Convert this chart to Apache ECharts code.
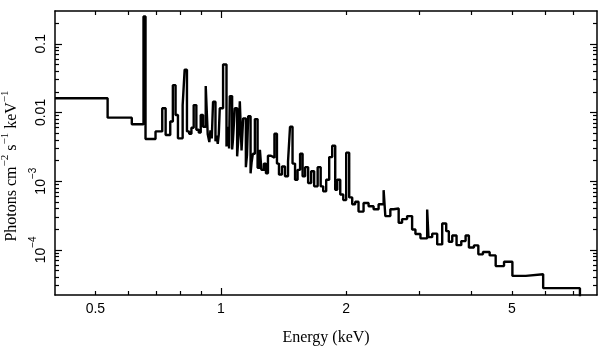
<!DOCTYPE html>
<html><head><meta charset="utf-8">
<script src="https://cdn.jsdelivr.net/npm/echarts@6/dist/echarts.min.js"></script>
<style>html,body{margin:0;padding:0;background:#fff}#c{width:608px;height:357px}</style>
</head><body><div id="c"></div>
<script>
// Bin lower edges (keV) and flux (photons cm^-2 s^-1 keV^-1)
const energyLo = [
  0.40, 0.535, 0.6115, 0.6524, 0.6597, 0.6972, 0.7236, 0.7373, 0.7563, 0.7673,
  0.7789, 0.7892, 0.8100, 0.8190, 0.8295, 0.8397, 0.8502, 0.8609, 0.8737, 0.8852,
  0.8951, 0.9066, 0.9202, 0.9304, 0.9387, 0.9445, 0.9515, 0.9582, 0.9711, 0.9772,
  0.9835, 0.9890, 0.9945, 1.0128, 1.0321, 1.0370, 1.0425, 1.0470, 1.0512, 1.0647,
  1.0690, 1.0730, 1.0807, 1.0946, 1.1031, 1.1110, 1.1216, 1.1316, 1.1487, 1.1560,
  1.1634, 1.1790, 1.1860, 1.1941, 1.2074, 1.2256, 1.2415, 1.2519, 1.2694,
  1.2836, 1.2979, 1.3197, 1.3453, 1.3641, 1.3794, 1.4025, 1.4261, 1.4502, 1.4663,
  1.4868, 1.5076, 1.5287, 1.5501, 1.5718, 1.5938, 1.6206, 1.6478, 1.6754, 1.7083,
  1.7370, 1.7612, 1.7907, 1.8208, 1.8514, 1.8825, 1.9035, 1.9354, 1.9680, 2.0000,
  2.0336, 2.0677, 2.1024, 2.1412, 2.2016, 2.2635, 2.3271, 2.3925, 2.4598, 2.4831,
  2.5529, 2.6000, 2.6731, 2.7240, 2.8005, 2.8793, 2.9325, 3.0151, 3.1291, 3.1517,
  3.2170, 3.3074, 3.4004, 3.4767, 3.5272, 3.5944, 3.6811, 3.7783, 3.8695, 3.9409,
  4.0517, 4.1518, 4.2589, 4.4198, 4.5696, 4.7855, 5.0119, 5.3977, 5.9410
];
const flux = [
  0.0161, 0.0084, 0.00675, 0.25, 0.0041, 0.0053, 0.0115, 0.0047, 0.0074, 0.025,
  0.0092, 0.0042, 0.0128, 0.042, 0.0053, 0.0049, 0.006, 0.0128, 0.0056, 0.0051,
  0.0092, 0.0062, 0.0242, 0.0048, 0.0037, 0.0055, 0.0042, 0.0143, 0.0038, 0.0046,
  0.0035, 0.0048, 0.0115, 0.05, 0.0032, 0.0045, 0.0062, 0.0030, 0.0173, 0.0029,
  0.0038, 0.0055, 0.0115, 0.0023, 0.0045, 0.0145, 0.0028, 0.0082, 0.0016, 0.0024,
  0.0088, 0.0013, 0.0019, 0.0025, 0.008, 0.00157, 0.00286, 0.00146, 0.0018,
  0.0013, 0.00234, 0.0022, 0.0049, 0.0018, 0.00125, 0.00163, 0.00118, 0.00194, 0.0062,
  0.0018, 0.00105, 0.00146, 0.0025, 0.00118, 0.0016, 0.00094, 0.00139, 0.00084, 0.0016,
  0.00084, 0.00071, 0.00105, 0.00224, 0.00327, 0.00075, 0.00105, 0.00064, 0.00053, 0.0026,
  0.00058, 0.00046, 0.0005, 0.00036, 0.00048, 0.00043, 0.00039, 0.00046, 0.00074, 0.00031,
  0.00039, 0.0004, 0.000248, 0.00028, 0.00031, 0.000198, 0.00017, 0.000147, 0.000386, 0.000153,
  0.000172, 0.00012, 0.000242, 0.000187, 0.000131, 0.000162, 0.000117, 0.000134, 0.000162, 0.000108,
  0.000116, 0.000086, 0.000093, 0.000083, 0.000058, 0.000067, 0.0000417, 0.0000442, 0.0000277
];
const energyHi = 7.28;

const xRange = [0.4, 8];
const yRange = [2.2e-5, 0.3];
const xLabelValues = [0.5, 1, 2, 5];
const xLabelText = ['0.5', '1', '2', '5'];
const xMajorTicks = [1];
const xMinorTicks = [0.5, 0.6, 0.7, 0.8, 0.9, 2, 3, 4, 5, 6, 7];
const yLabelValues = [1e-4, 1e-3, 0.01, 0.1];
const yLabelText = ['{b|10}{s|−4}', '{b|10}{s|−3}', '{b|0.01}', '{b|0.1}'];
const yMajorTicks = [1e-4, 1e-3, 0.01, 0.1];
const yMinorTicks = [3e-5, 4e-5, 5e-5, 6e-5, 7e-5, 8e-5, 9e-5,
  2e-4, 3e-4, 4e-4, 5e-4, 6e-4, 7e-4, 8e-4, 9e-4,
  2e-3, 3e-3, 4e-3, 5e-3, 6e-3, 7e-3, 8e-3, 9e-3,
  0.02, 0.03, 0.04, 0.05, 0.06, 0.07, 0.08, 0.09, 0.2];

const seriesData = energyLo.map((e, i) => [e, flux[i]]);
seriesData.push([energyHi, flux[flux.length - 1]]);
seriesData.push([energyHi, 1e-7]);

function nearestIdx(arr, v) {
  let best = 0, bd = Infinity;
  arr.forEach((a, i) => { const d = Math.abs(Math.log10(a) - Math.log10(v)); if (d < bd) { bd = d; best = i; } });
  return best;
}

const LW = 1.5;
function mkAxis(kind, pos, range, ticks, len, labelVals, labelFmt, showLine, extra) {
  return {
    type: 'log', logBase: 10, position: pos, min: range[0], max: range[1], gridIndex: 0,
    axisLine: { show: showLine, lineStyle: { color: '#000', width: LW } },
    axisTick: { show: true, inside: true, length: len, customValues: ticks, lineStyle: { color: '#000', width: 1.2 } },
    splitLine: { show: false }, minorTick: { show: false }, minorSplitLine: { show: false },
    axisLabel: labelVals ? Object.assign({ show: true, customValues: labelVals, formatter: labelFmt }, extra || {}) : { show: false },
    silent: true
  };
}

const chart = echarts.init(document.getElementById('c'), null, { renderer: 'canvas' });
const xMain = mkAxis('x', 'bottom', xRange, xMajorTicks, 7, xLabelValues,
  v => xLabelText[nearestIdx(xLabelValues, v)],
  true, { margin: 7, color: '#000', fontSize: 14, fontFamily: 'Liberation Sans' });
xMain.name = 'Energy (keV)';
xMain.nameLocation = 'middle';
xMain.nameGap = 35;
xMain.nameTextStyle = { color: '#000', fontSize: 16, fontFamily: 'Liberation Serif' };

const yMain = mkAxis('y', 'left', yRange, yMajorTicks, 7, yLabelValues,
  v => yLabelText[nearestIdx(yLabelValues, v)],
  true, { margin: 7, rotate: 90, color: '#000',
    rich: {
      b: { fontSize: 14, fontFamily: 'Liberation Sans', color: '#000', lineHeight: 20, verticalAlign: 'bottom' },
      s: { fontSize: 10, fontFamily: 'Liberation Sans', color: '#000', lineHeight: 12, verticalAlign: 'top' }
    } });
yMain.name = '{a|Photons cm}{s|−2}{a| s}{s|−1}{a| keV}{s|−1}';
yMain.nameLocation = 'middle';
yMain.nameRotate = 90;
yMain.nameGap = 28;
yMain.nameTextStyle = {
  color: '#000',
  padding: [0, 26, 0, 0],
  rich: {
    a: { fontSize: 16, fontFamily: 'Liberation Serif', color: '#000', lineHeight: 20, verticalAlign: 'bottom' },
    s: { fontSize: 11, fontFamily: 'Liberation Serif', color: '#000', lineHeight: 12, verticalAlign: 'top' }
  }
};

const option = {
  animation: false,
  backgroundColor: '#fff',
  grid: { left: 55, right: 11, top: 11, bottom: 62, containLabel: false, outerBoundsMode: 'none' },
  xAxis: [
    xMain,
    mkAxis('x', 'bottom', xRange, xMinorTicks, 4, null, null, false),
    mkAxis('x', 'top', xRange, xMajorTicks, 7, null, null, true),
    mkAxis('x', 'top', xRange, xMinorTicks, 4, null, null, false)
  ],
  yAxis: [
    yMain,
    mkAxis('y', 'left', yRange, yMinorTicks, 4, null, null, false),
    mkAxis('y', 'right', yRange, yMajorTicks, 7, null, null, true),
    mkAxis('y', 'right', yRange, yMinorTicks, 4, null, null, false)
  ],
  series: [{
    type: 'line', xAxisIndex: 0, yAxisIndex: 0, step: 'end', data: seriesData,
    showSymbol: false, symbol: 'none', clip: true,
    lineStyle: { color: '#000', width: 2.4 }
  }]
};
chart.setOption(option);
</script></body></html>
